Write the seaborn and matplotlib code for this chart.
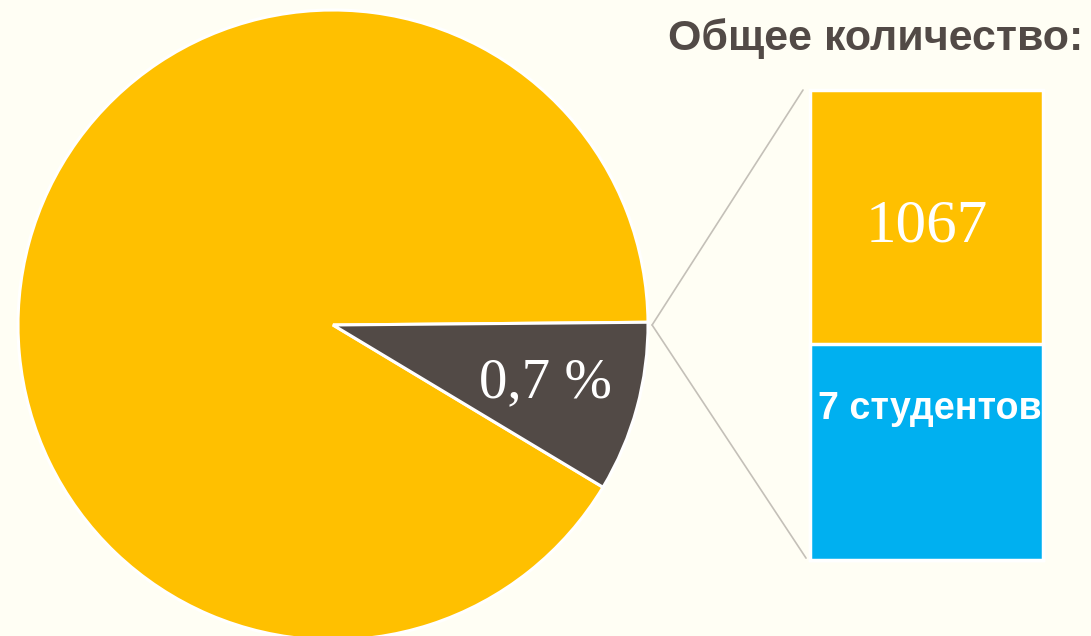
import numpy as np
import pandas as pd
import seaborn as sns
import matplotlib.pyplot as plt
from matplotlib.patches import ConnectionPatch

# values
pie_names = ["остальные", "студенты"]
pie_shares = [91.25, 8.75]      # how the pie is cut on the slide
bar_names = ["всего", "студенты"]
bar_values = [1067, 7]
bar_parts = [54, 46]            # visual split of the bar, top / bottom
title_text = "Общее количество:"
bar_note = f"{bar_values[1]} студентов"

bg = "#FFFEF4"
yellow = "#FFC000"
dark = "#524A46"
blue = "#00B0F0"
line_col = "#C4C0B8"

sns.set_theme(style="white", rc={"figure.facecolor": bg, "axes.facecolor": bg})

W, H = 1091, 636
fig = plt.figure(figsize=(W / 100, H / 100), dpi=100)


def fit_width(txt, width_px):
    # the slide uses a narrow bold face, so shrink until the text spans the same width
    fig.canvas.draw()
    w = txt.get_window_extent().width
    txt.set_fontsize(txt.get_fontsize() * width_px / w)


# pie on the left
ax_pie = fig.add_axes([18 / W, -4 / H, 630 / W, 630 / H])
wedges, _ = ax_pie.pie(pie_shares, colors=[yellow, dark], startangle=0.5,
                       wedgeprops=dict(edgecolor="white", linewidth=2.2))
for w in wedges:
    w.set_clip_on(False)
ax_pie.set_xlim(-1, 1)
ax_pie.set_ylim(-1, 1)
ax_pie.axis("off")

dw = wedges[1]
mid = np.deg2rad((dw.theta1 + dw.theta2) / 2)
pct = bar_values[1] / bar_values[0] * 100
ax_pie.text(0.70 * np.cos(mid), 0.70 * np.sin(mid), f"{pct:.1f} %".replace(".", ","),
            ha="center", va="center", color="white", fontsize=41, family="Liberation Serif")

# stacked bar on the right
ax_bar = fig.add_axes([810 / W, 76 / H, 233 / W, 470 / H])
sns.barplot(x=[bar_names[0]], y=[sum(bar_parts)], color=yellow, saturation=1, width=1,
            edgecolor="white", linewidth=2.5, ax=ax_bar)
sns.barplot(x=[bar_names[0]], y=[bar_parts[1]], color=blue, saturation=1, width=1,
            edgecolor="white", linewidth=2.5, ax=ax_bar)
for p in ax_bar.patches:
    p.set_clip_on(False)
ax_bar.set_xlim(-0.5, 0.5)
ax_bar.set_ylim(0, sum(bar_parts))
ax_bar.axis("off")

top_bar = ax_bar.patches[0]
ax_bar.text(0, bar_parts[1] + bar_parts[0] / 2 - 2, str(bar_values[0]),
            ha="center", va="center", color="white", fontsize=44, family="Liberation Serif")
note = ax_bar.text(-0.466, bar_parts[1] * 0.70, bar_note, ha="left", va="center", color="white",
                   fontsize=30, fontweight="bold", family="Liberation Sans", clip_on=True)

# connector lines from the pie to the bar
x0 = top_bar.get_x()
for yb, dx in [(sum(bar_parts), -0.03), (0.4, -0.017)]:
    con = ConnectionPatch(xyA=(1.013, 0), coordsA=ax_pie.transData,
                          xyB=(x0 + dx, yb), coordsB=ax_bar.transData,
                          color=line_col, lw=1.2)
    fig.add_artist(con)

title = fig.text(1083 / W, 1 - 50 / H, title_text, ha="right", va="baseline", color=dark,
                 fontsize=35, fontweight="bold", family="Liberation Sans")

fit_width(title, 416)
fit_width(note, 223)

fig.savefig("out.png", dpi=100, facecolor=bg)
